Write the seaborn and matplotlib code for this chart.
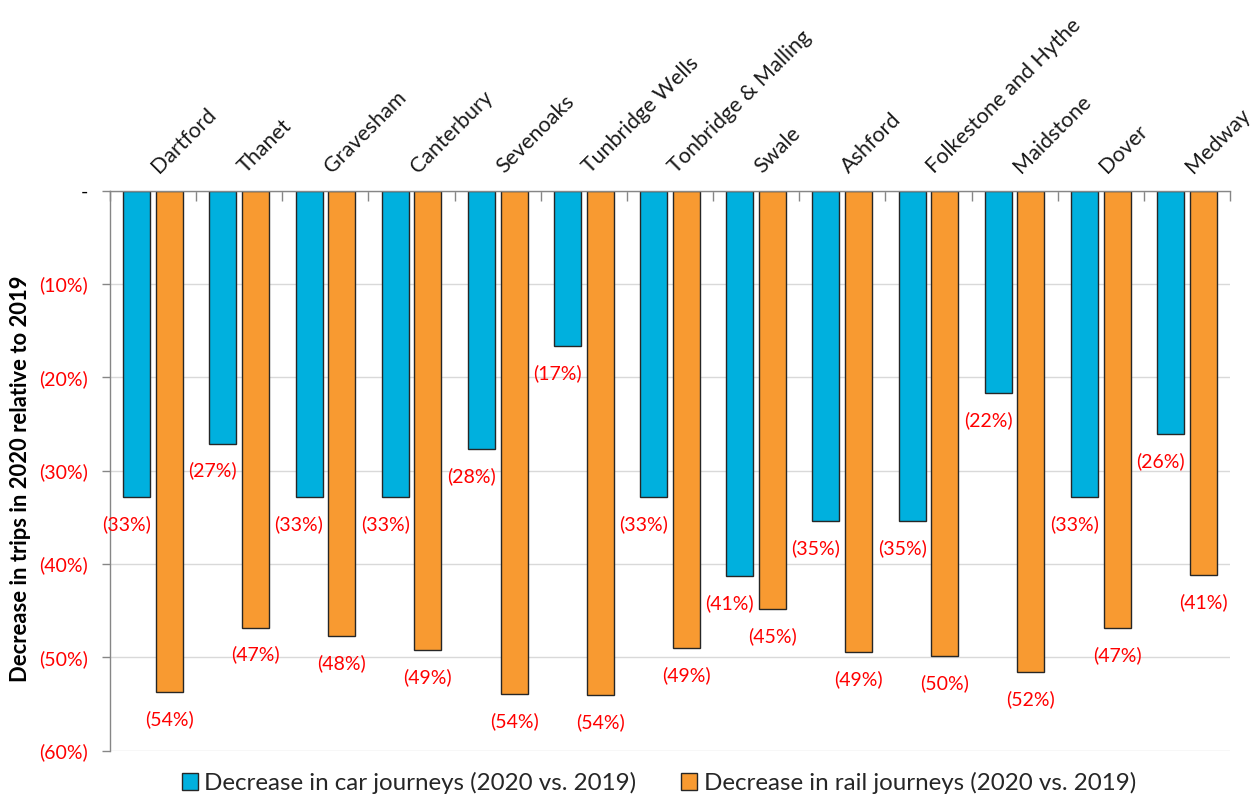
import numpy as np
import pandas as pd
import matplotlib
matplotlib.use("Agg")
import matplotlib.pyplot as plt
import matplotlib.transforms as mtransforms
import seaborn as sns

# ---- data ----
districts = ["Dartford", "Thanet", "Gravesham", "Canterbury", "Sevenoaks",
             "Tunbridge Wells", "Tonbridge & Malling", "Swale", "Ashford",
             "Folkestone and Hythe", "Maidstone", "Dover", "Medway"]
car_change = [-32.8, -27.1, -32.85, -32.85, -27.7, -16.6, -32.85, -41.3,
              -35.4, -35.4, -21.7, -32.85, -26.1]
rail_change = [-53.7, -46.8, -47.7, -49.2, -53.9, -54.0, -49.0, -44.8,
               -49.4, -49.9, -51.6, -46.9, -41.2]
series_names = ["Decrease in car journeys (2020 vs. 2019)",
                "Decrease in rail journeys (2020 vs. 2019)"]
y_ticks = [0, -10, -20, -30, -40, -50, -60]
y_tick_labels = ["-", "(10%)", "(20%)", "(30%)", "(40%)", "(50%)", "(60%)"]
y_label = "Decrease in trips in 2020 relative to 2019"

df = pd.DataFrame({
    "district": districts * 2,
    "value": car_change + rail_change,
    "series": [series_names[0]] * len(districts) + [series_names[1]] * len(districts),
})

# ---- style ----
sns.set_theme(style="white")
plt.rcParams["font.family"] = ["Lato", "DejaVu Sans"]

W, H = 1258, 798
fig = plt.figure(figsize=(W / 100, H / 100), dpi=100)
ax = fig.add_axes([110 / W, 1 - 750.7 / H, 1120 / W, (750.7 - 190.8) / H])

blue = "#00B0DE"
orange = "#F89A31"
sns.barplot(data=df, x="district", y="value", hue="series", order=districts,
            hue_order=series_names, palette=[blue, orange], width=0.76, gap=0.175,
            edgecolor="#262626", linewidth=1.0, saturation=1, ax=ax, errorbar=None)

ax.set_ylim(-60, 0)
ax.set_xlim(-0.5, len(districts) - 0.5)

# axes cosmetics
grey = "#868686"
for s in ["right", "bottom"]:
    ax.spines[s].set_visible(False)
ax.spines["left"].set_color(grey)
ax.spines["top"].set_color(grey)
ax.spines["left"].set_linewidth(1.0)
ax.spines["top"].set_linewidth(1.0)

ax.set_yticks(y_ticks)
ax.set_yticklabels(y_tick_labels, fontsize=14)
for lbl, v in zip(ax.get_yticklabels(), y_ticks):
    lbl.set_color("black" if v == 0 else "#FF0000")
ax.tick_params(axis="y", direction="out", length=6, width=1, color=grey, pad=10, left=True)
ax.yaxis.grid(True, color="#D9D9D9", linewidth=1)
ax.set_axisbelow(True)

# category labels along the top (x axis placed at the top)
ax.xaxis.tick_top()
ax.set_xticks(range(len(districts)))
ax.set_xticklabels([])
ax.tick_params(axis="x", which="major", length=0, top=True, bottom=False)
ax.set_xticks(np.arange(-0.5, len(districts), 1.0), minor=True)
ax.tick_params(axis="x", which="minor", direction="in", length=7, width=1,
               color=grey, top=True, bottom=False)
offset = mtransforms.ScaledTranslation(9 / 100, 14 / 100, fig.dpi_scale_trans)
for i, name in enumerate(districts):
    ax.text(i, 1.0, name, transform=ax.get_xaxis_transform() + offset,
            rotation=45, rotation_mode="anchor", ha="left", va="bottom",
            fontsize=15.5, color="#1a1a1a", clip_on=False)
ax.set_xlabel("")
ax.set_ylabel("")

# data labels
px = 72 / 100  # points per pixel
for ci, cont in enumerate(ax.containers):
    dx = -10 * px if ci == 0 else 0
    for p in cont.patches:
        val = p.get_y() + p.get_height()
        cx = p.get_x() + p.get_width() / 2
        ax.annotate(f"({abs(val):.0f}%)", xy=(cx, val), xytext=(dx, -27 * px),
                    textcoords="offset points", ha="center", va="center",
                    color="#FF0000", fontsize=14)

# y label
fig.text(21 / W, 1 - 479 / H, y_label, rotation=90, ha="center", va="center",
         fontsize=15.8, fontweight="bold", color="black")

# legend
handles, labels = ax.get_legend_handles_labels()
if ax.get_legend() is not None:
    ax.get_legend().remove()
leg = fig.legend(handles, labels, loc="center", bbox_to_anchor=(659 / W, 1 - 783 / H),
                 ncol=2, frameon=False, fontsize=17.4, handlelength=0.66,
                 handleheight=0.66, handletextpad=0.27, columnspacing=1.85,
                 borderaxespad=0)
for t in leg.get_texts():
    t.set_color("#262626")

fig.savefig("out.png", dpi=100)
